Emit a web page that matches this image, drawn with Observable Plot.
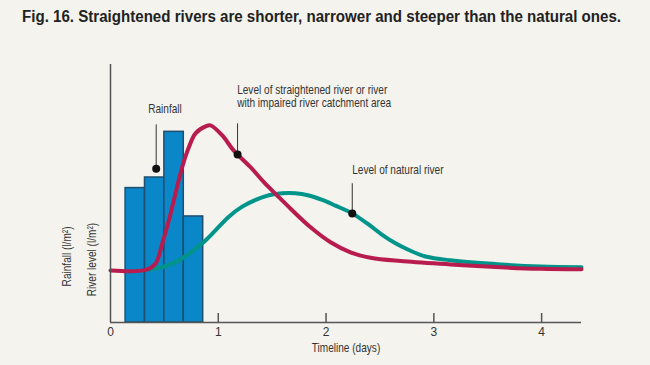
<!DOCTYPE html>
<html><head><meta charset="utf-8">
<script src="https://cdn.jsdelivr.net/npm/d3@7"></script>
<script src="https://cdn.jsdelivr.net/npm/@observablehq/plot@0.6"></script>
<style>
html,body{margin:0;padding:0;background:#f4f3ee;}
body{width:650px;height:365px;overflow:hidden;}
#title{height:40px;box-sizing:border-box;padding:8px 0 0 22px;white-space:nowrap;}
#title span{display:inline-block;font:bold 16px "Liberation Sans",Arial,sans-serif;color:#222;transform-origin:0 50%;}
</style></head><body>
<div id="title"><span>Fig. 16. Straightened rivers are shorter, narrower and steeper than the natural ones.</span></div>
<div id="chart"></div>
<script>
// Rainfall bars (days)
const rainStart = [0.14, 0.32, 0.50, 0.68];
const rainEnd   = [0.32, 0.50, 0.68, 0.86];
const rainfall  = [5.21, 5.62, 7.39, 4.11];

// Straightened river level
const straightDays  = [0, 0.325, 0.418, 0.48, 0.541, 0.603, 0.665, 0.727, 0.789, 0.882, 0.928, 1.037, 1.142, 1.299, 1.423, 1.547, 1.671, 1.856, 2.042, 2.227, 2.413, 2.691, 3.155, 3.619, 3.991, 4.37];
const straightLevel = [2.02, 2.04, 2.29, 3.06, 3.95, 5.0, 6.02, 6.79, 7.33, 7.60, 7.64, 7.25, 6.67, 6.02, 5.44, 4.92, 4.41, 3.69, 3.11, 2.72, 2.51, 2.38, 2.25, 2.14, 2.08, 2.06];

// Natural river level
const naturalDays  = [0.325, 0.48, 0.603, 0.727, 0.789, 0.881, 0.974, 1.098, 1.222, 1.346, 1.469, 1.593, 1.716, 1.840, 1.964, 2.087, 2.243, 2.397, 2.521, 2.644, 2.768, 2.923, 3.155, 3.619, 3.991, 4.37];
const naturalLevel = [2.04, 2.14, 2.34, 2.66, 2.86, 3.18, 3.57, 4.10, 4.49, 4.75, 4.93, 5.01, 5.01, 4.92, 4.75, 4.53, 4.23, 3.79, 3.40, 3.07, 2.81, 2.56, 2.41, 2.25, 2.17, 2.14];

const xTicks = [0, 1, 2, 3, 4];

// Annotations
const annoLabel = ["Rainfall", "Level of straightened river or river\nwith impaired river catchment area", "Level of natural river"];
const annoTextX = [0.35, 1.175, 2.243];
const annoTextY = [8.26, 8.76, 5.93];
const annoDotX  = [0.424, 1.179, 2.243];
const annoDotY  = [5.96, 6.51, 4.22];
const annoTopY  = [7.66, 7.70, 5.38];

const axisTitles = ["Rainfall (l/m²)", "River level (l/m²)"];
const axisTitleX = [-0.399, -0.167];
const axisTitleY = [2.56, 2.44];

const bars = rainfall.map((v, i) => ({x1: rainStart[i], x2: rainEnd[i], y: v}));
const straight = straightDays.map((d, i) => ({d, v: straightLevel[i]}));
const natural = naturalDays.map((d, i) => ({d, v: naturalLevel[i]}));
const notes = annoLabel.map((t, i) => ({t, tx: annoTextX[i], ty: annoTextY[i], dx: annoDotX[i], dy: annoDotY[i], top: annoTopY[i]}));
const yTitles = axisTitles.map((t, i) => ({t, x: axisTitleX[i], y: axisTitleY[i]}));

const chart = Plot.plot({
  width: 650,
  height: 325,
  marginLeft: 110,
  marginRight: 69,
  marginTop: 24,
  marginBottom: 43,
  x: {domain: [0, 4.37], axis: null},
  y: {domain: [0, 10], axis: null},
  style: {background: "transparent", fontFamily: "'Liberation Sans',Arial,sans-serif", fontSize: "12px", color: "#333", overflow: "visible"},
  marks: [
    Plot.rectY(bars, {x1: "x1", x2: "x2", y: "y", fill: "#0a87c9", stroke: "#1f4e6e", strokeWidth: 1.5}),
    Plot.line(natural, {x: "d", y: "v", stroke: "#00948a", strokeWidth: 4, curve: "catmull-rom"}),
    Plot.line(straight, {x: "d", y: "v", stroke: "#b81c4e", strokeWidth: 4, curve: "catmull-rom"}),
    Plot.ruleX(notes, {x: "dx", y1: "dy", y2: "top", stroke: "#333", strokeWidth: 1}),
    Plot.dot(notes, {x: "dx", y: "dy", r: 4, fill: "#111", stroke: null}),
    Plot.text(notes, {x: "tx", y: "ty", text: "t", textAnchor: "start", lineAnchor: "middle", lineHeight: 1.05, fontSize: 12, fill: "#333", className: "narrow"}),
    Plot.ruleX([0], {stroke: "#555", strokeWidth: 1.5}),
    Plot.ruleY([0], {stroke: "#555", strokeWidth: 1.5}),
    Plot.axisX(xTicks.slice(1), {tickSize: 9, dy: -9, tickFormat: () => "", stroke: "#555", strokeWidth: 1.5}),
    Plot.axisX(xTicks, {tickSize: 0, tickPadding: 5, fontSize: 12, fill: "#333"}),
    Plot.text(["Timeline (days)"], {frameAnchor: "bottom", dy: 29, fontSize: 12, fill: "#333", className: "narrow"}),
    Plot.text(yTitles, {x: "x", y: "y", text: "t", rotate: -90, fontSize: 12, fill: "#333", className: "narrow"})
  ]
});
document.getElementById("chart").appendChild(chart);

// Condensed look: squeeze label texts horizontally
d3.select(chart).selectAll(".narrow text").each(function () {
  const t = this.getAttribute("transform");
  if (t) {
    this.setAttribute("transform", t + " scale(0.84,1)");
  } else {
    const x = +this.getAttribute("x") || 0, y = +this.getAttribute("y") || 0;
    this.setAttribute("transform", `translate(${x},${y}) scale(0.84,1) translate(${-x},${-y})`);
  }
});

// Fit title to its width in the reference
const ts = document.querySelector("#title span");
const w = ts.getBoundingClientRect().width;
ts.style.transform = `scaleX(${599 / w})`;
</script>
</body></html>
